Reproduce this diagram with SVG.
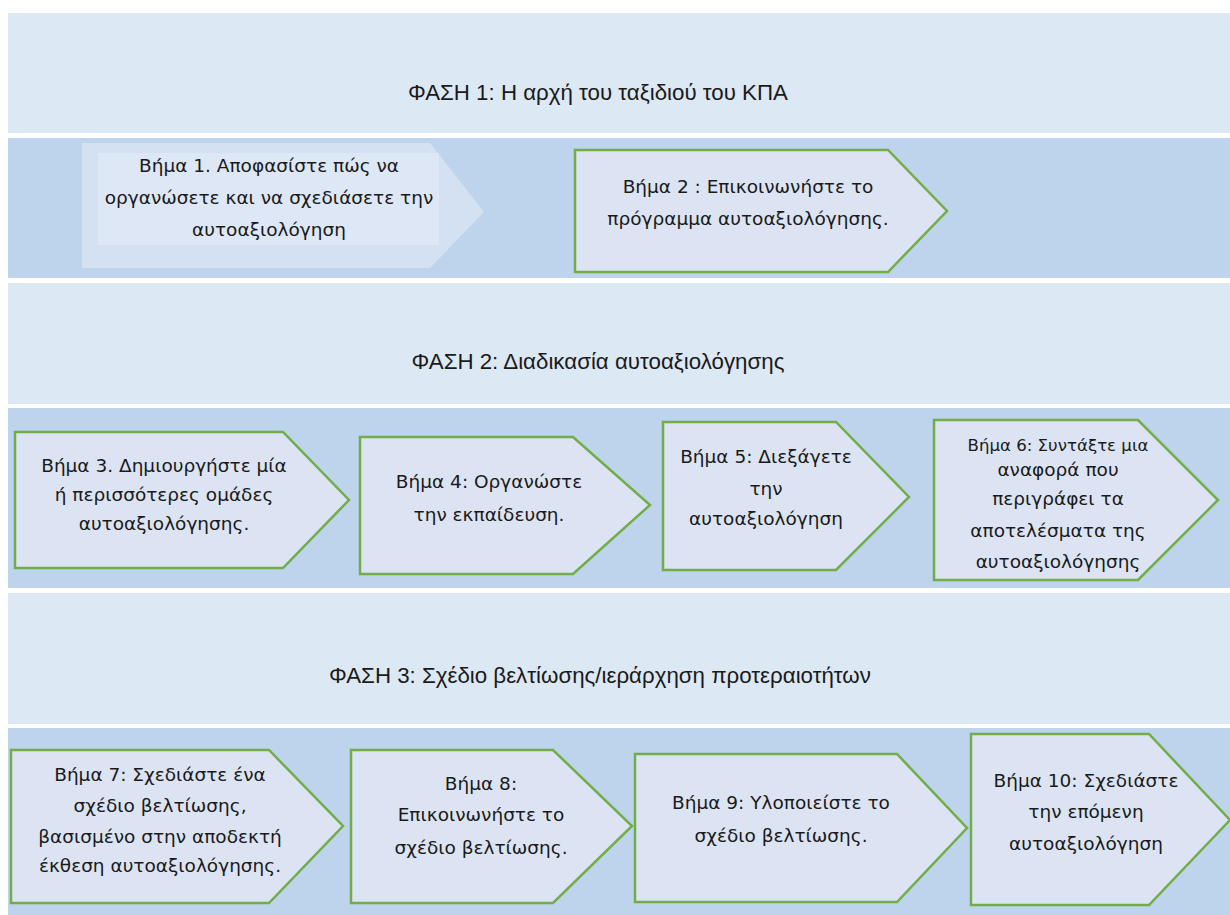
<svg xmlns="http://www.w3.org/2000/svg" width="1230" height="915" viewBox="0 0 1230 915">
<style>
.light{fill:#dde8f5}
.dark{fill:#bdd4ec}
.step{fill:#dce4f3;stroke:#72ad4a;stroke-width:2.5;stroke-linejoin:miter}
.t{font-family:"DejaVu Sans","Liberation Sans",sans-serif;font-size:18.5px;fill:#1a1a1a;text-anchor:middle}
.h{font-family:"Liberation Sans",Arial,sans-serif;font-size:22.3px;fill:#1a1a1a;text-anchor:middle}
</style>
<rect width="1230" height="915" fill="#ffffff"/>
<g id="bands">
<rect class="light" x="8" y="13" width="1222" height="120"/>
<rect class="dark" x="8" y="138" width="1222" height="140"/>
<rect class="light" x="8" y="283" width="1222" height="121"/>
<rect class="dark" x="8" y="408" width="1222" height="180"/>
<rect class="light" x="8" y="593" width="1222" height="131"/>
<rect class="dark" x="8" y="728" width="1222" height="187"/>
</g>
<g id="phase1"><text class="h" x="598" y="100">ΦΑΣΗ 1: Η αρχή του ταξιδιού του ΚΠΑ</text></g>
<g id="phase2"><text class="h" x="598" y="369">ΦΑΣΗ 2: Διαδικασία αυτοαξιολόγησης</text></g>
<g id="phase3"><text class="h" x="600" y="683">ΦΑΣΗ 3: Σχέδιο βελτίωσης/ιεράρχηση προτεραιοτήτων</text></g>
<g id="connectors"></g>
<g id="step1">
<polygon points="82,143 430,143 484,212 430,268 82,268" fill="#d4e1f2"/>
<rect x="98" y="153" width="341" height="92" fill="#dde7f5"/>
<text class="t" x="269" y="172">Βήμα 1. Αποφασίστε πώς να</text>
<text class="t" x="269" y="204">οργανώσετε και να σχεδιάσετε την</text>
<text class="t" x="269" y="236">αυτοαξιολόγηση</text>
</g>
<g id="step2">
<polygon class="step" points="575,150 888,150 947,211 888,272 575,272"/>
<text class="t" x="748" y="193">Βήμα 2 : Επικοινωνήστε το</text>
<text class="t" x="748" y="225">πρόγραμμα αυτοαξιολόγησης.</text>
</g>
<g id="step3">
<polygon class="step" points="15,432 283,432 349,500 283,568 15,568"/>
<text class="t" x="164" y="472">Βήμα 3. Δημιουργήστε μία</text>
<text class="t" x="164" y="501">ή περισσότερες ομάδες</text>
<text class="t" x="164" y="530">αυτοαξιολόγησης.</text>
</g>
<g id="step4">
<polygon class="step" points="360,437 573,437 650,505 573,574 360,574"/>
<text class="t" x="489" y="488">Βήμα 4: Οργανώστε</text>
<text class="t" x="489" y="521">την εκπαίδευση.</text>
</g>
<g id="step5">
<polygon class="step" points="663,422 836,422 909,497 836,570 663,570"/>
<text class="t" x="766" y="463">Βήμα 5: Διεξάγετε</text>
<text class="t" x="766" y="495">την</text>
<text class="t" x="766" y="525">αυτοαξιολόγηση</text>
</g>
<g id="step6">
<polygon class="step" points="934,420 1138,420 1218,500 1138,580 934,580"/>
<text class="t" x="1058" y="451" style="font-size:16.6px">Βήμα 6: Συντάξτε μια</text>
<text class="t" x="1058" y="476">αναφορά που</text>
<text class="t" x="1058" y="505">περιγράφει τα</text>
<text class="t" x="1058" y="537">αποτελέσματα της</text>
<text class="t" x="1058" y="568">αυτοαξιολόγησης</text>
</g>
<g id="step7">
<polygon class="step" points="11,750 269,750 343,826 269,903 11,903"/>
<text class="t" x="160" y="781">Βήμα 7: Σχεδιάστε ένα</text>
<text class="t" x="160" y="812">σχέδιο βελτίωσης,</text>
<text class="t" x="160" y="843">βασισμένο στην αποδεκτή</text>
<text class="t" x="160" y="872">έκθεση αυτοαξιολόγησης.</text>
</g>
<g id="step8">
<polygon class="step" points="351,750 553,750 632,826 553,903 351,903"/>
<text class="t" x="481" y="790">Βήμα 8:</text>
<text class="t" x="481" y="821">Επικοινωνήστε το</text>
<text class="t" x="481" y="854">σχέδιο βελτίωσης.</text>
</g>
<g id="step9">
<polygon class="step" points="635,754 897,754 967,828 897,902 635,902"/>
<text class="t" x="781" y="809">Βήμα 9: Υλοποιείστε το</text>
<text class="t" x="781" y="842">σχέδιο βελτίωσης.</text>
</g>
<g id="step10">
<polygon class="step" points="971,734 1149,734 1230,820 1149,905 971,905"/>
<text class="t" x="1086" y="787">Βήμα 10: Σχεδιάστε</text>
<text class="t" x="1086" y="818">την επόμενη</text>
<text class="t" x="1086" y="850">αυτοαξιολόγηση</text>
</g>
</svg>
